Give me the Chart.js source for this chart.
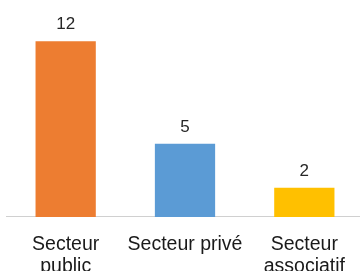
<!DOCTYPE html>
<html>
<head>
<meta charset="utf-8">
<script src="https://cdn.jsdelivr.net/npm/chart.js@4/dist/chart.umd.min.js"></script>
<style>
  html, body { margin: 0; padding: 0; background: #fff; overflow: hidden; }
  #wrap { width: 360px; height: 271px; overflow: hidden; }
</style>
</head>
<body>
<div id="wrap"><canvas id="graphique" width="364" height="295"></canvas></div>
<script>
// categories et valeurs
const categories = [["Secteur", "public"], "Secteur privé", ["Secteur", "associatif"]];
const valeurs = [12, 5, 2];
const couleurs = ["#ED7D31", "#5B9BD5", "#FFC000"];

// etiquettes de valeur au-dessus des barres
const etiquettes = {
  id: "etiquettes",
  afterDatasetsDraw(chart) {
    const ctx = chart.ctx;
    const meta = chart.getDatasetMeta(0);
    ctx.save();
    ctx.font = "17px 'Liberation Sans', Arial, sans-serif";
    ctx.fillStyle = "#262626";
    ctx.textAlign = "center";
    ctx.textBaseline = "alphabetic";
    meta.data.forEach((bar, i) => {
      ctx.fillText(String(valeurs[i]), bar.x, bar.y - 12);
    });
    ctx.restore();
  },
};

const config = {
  type: "bar",
  data: {
    labels: categories,
    datasets: [
      {
        data: valeurs,
        backgroundColor: couleurs,
        borderWidth: 0,
        categoryPercentage: 1,
        barPercentage: 0.505,
      },
    ],
  },
  options: {
    responsive: false,
    animation: false,
    layout: { padding: { top: 12, left: 6, right: 0, bottom: 0 } },
    plugins: { legend: { display: false }, tooltip: { enabled: false } },
    scales: {
      x: {
        grid: { display: false, drawTicks: false },
        border: { display: true, color: "#d0d0d0", width: 1 },
        ticks: {
          padding: 17,
          color: "#1a1a1a",
          maxRotation: 0,
          font: { family: "'Liberation Sans', Arial, sans-serif", size: 19.5, lineHeight: 1.13 },
        },
      },
      y: { display: false, min: 0, max: 14 },
    },
  },
  plugins: [etiquettes],
};

const graphique = new Chart(document.getElementById("graphique"), config);
</script>
</body>
</html>
